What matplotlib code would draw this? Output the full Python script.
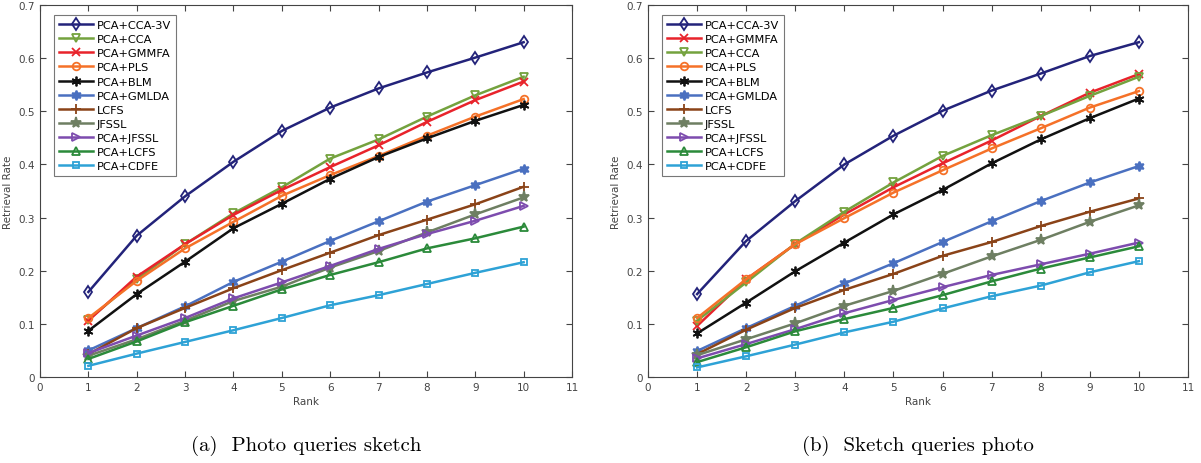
import matplotlib.pyplot as plt

rank = [1, 2, 3, 4, 5, 6, 7, 8, 9, 10]

# (a) photo queries sketch
a_cca3v = [0.160, 0.266, 0.340, 0.405, 0.463, 0.507, 0.543, 0.573, 0.601, 0.630]
a_cca = [0.108, 0.184, 0.250, 0.308, 0.357, 0.411, 0.447, 0.490, 0.530, 0.565]
a_gmmfa = [0.106, 0.189, 0.250, 0.305, 0.352, 0.395, 0.436, 0.480, 0.521, 0.556]
a_pls = [0.111, 0.181, 0.242, 0.292, 0.341, 0.380, 0.416, 0.454, 0.490, 0.523]
a_blm = [0.087, 0.156, 0.217, 0.280, 0.326, 0.373, 0.414, 0.449, 0.482, 0.512]
a_gmlda = [0.050, 0.092, 0.133, 0.179, 0.217, 0.256, 0.293, 0.330, 0.361, 0.392]
a_lcfs = [0.043, 0.092, 0.130, 0.167, 0.201, 0.234, 0.267, 0.296, 0.325, 0.358]
a_jfssl = [0.040, 0.071, 0.106, 0.143, 0.170, 0.206, 0.237, 0.272, 0.306, 0.338]
a_pjfssl = [0.045, 0.078, 0.111, 0.148, 0.178, 0.209, 0.241, 0.269, 0.294, 0.322]
a_plcfs = [0.034, 0.067, 0.103, 0.134, 0.165, 0.192, 0.216, 0.242, 0.261, 0.283]
a_cdfe = [0.021, 0.044, 0.066, 0.088, 0.111, 0.135, 0.154, 0.175, 0.196, 0.216]

# (b) sketch queries photo
b_cca3v = [0.156, 0.256, 0.331, 0.400, 0.454, 0.501, 0.539, 0.571, 0.604, 0.630]
b_gmmfa = [0.096, 0.184, 0.250, 0.306, 0.357, 0.402, 0.445, 0.491, 0.535, 0.570]
b_cca = [0.106, 0.178, 0.251, 0.311, 0.366, 0.416, 0.455, 0.491, 0.529, 0.565]
b_pls = [0.111, 0.184, 0.250, 0.299, 0.347, 0.389, 0.430, 0.468, 0.507, 0.538]
b_blm = [0.082, 0.140, 0.199, 0.253, 0.306, 0.352, 0.402, 0.447, 0.487, 0.524]
b_gmlda = [0.049, 0.092, 0.134, 0.176, 0.214, 0.254, 0.293, 0.331, 0.366, 0.397]
b_lcfs = [0.043, 0.089, 0.130, 0.164, 0.194, 0.228, 0.254, 0.284, 0.311, 0.336]
b_jfssl = [0.041, 0.071, 0.101, 0.134, 0.162, 0.194, 0.227, 0.258, 0.292, 0.323]
b_pjfssl = [0.035, 0.062, 0.090, 0.120, 0.145, 0.169, 0.192, 0.212, 0.232, 0.253]
b_plcfs = [0.028, 0.056, 0.086, 0.109, 0.130, 0.154, 0.180, 0.204, 0.225, 0.246]
b_cdfe = [0.018, 0.039, 0.061, 0.084, 0.104, 0.129, 0.152, 0.172, 0.197, 0.218]

# colour, marker, open?, marker size
styles = {
    'PCA+CCA-3V': ('#23237a', 'd', True, 6),
    'PCA+CCA': ('#74a23e', 'v', True, 6),
    'PCA+GMMFA': ('#e8232b', 'x', False, 6),
    'PCA+PLS': ('#f57128', 'o', True, 5.5),
    'PCA+BLM': ('#111111', (6, 2, 0), False, 7),
    'PCA+GMLDA': ('#4a70c0', (6, 1, 0), False, 7),
    'LCFS': ('#8a4318', '+', False, 7),
    'JFSSL': ('#6e7f62', '*', False, 8),
    'PCA+JFSSL': ('#7d4cae', '>', True, 6),
    'PCA+LCFS': ('#2b8a3a', '^', True, 6),
    'PCA+CDFE': ('#2ea2d6', 's', True, 4.5),
}

a_series = [('PCA+CCA-3V', a_cca3v), ('PCA+CCA', a_cca), ('PCA+GMMFA', a_gmmfa),
            ('PCA+PLS', a_pls), ('PCA+BLM', a_blm), ('PCA+GMLDA', a_gmlda),
            ('LCFS', a_lcfs), ('JFSSL', a_jfssl), ('PCA+JFSSL', a_pjfssl),
            ('PCA+LCFS', a_plcfs), ('PCA+CDFE', a_cdfe)]
b_series = [('PCA+CCA-3V', b_cca3v), ('PCA+GMMFA', b_gmmfa), ('PCA+CCA', b_cca),
            ('PCA+PLS', b_pls), ('PCA+BLM', b_blm), ('PCA+GMLDA', b_gmlda),
            ('LCFS', b_lcfs), ('JFSSL', b_jfssl), ('PCA+JFSSL', b_pjfssl),
            ('PCA+LCFS', b_plcfs), ('PCA+CDFE', b_cdfe)]

fig = plt.figure(figsize=(12.01, 4.64), dpi=100)
ax1 = fig.add_axes([40 / 1201, 1 - 378 / 464, 532 / 1201, 372 / 464])
ax2 = fig.add_axes([648 / 1201, 1 - 378 / 464, 540 / 1201, 372 / 464])

tick_col = '#444444'
for ax, series, cap, w in [(ax1, a_series, '(a)  Photo queries sketch', 532),
                           (ax2, b_series, '(b)  Sketch queries photo', 540)]:
    for name, vals in series:
        col, mk, hollow, ms = styles[name]
        kw = dict(color=col, marker=mk, lw=1.8, ms=ms, mew=1.3, label=name)
        if hollow:
            kw['mfc'] = 'none'
        ax.plot(rank, vals, **kw)
    ax.set_xlim(0, 11)
    ax.set_ylim(0, 0.7)
    ax.set_xticks(range(0, 12))
    ax.set_yticks([0, 0.1, 0.2, 0.3, 0.4, 0.5, 0.6, 0.7])
    ax.set_yticklabels(['0', '0.1', '0.2', '0.3', '0.4', '0.5', '0.6', '0.7'])
    ax.tick_params(direction='in', top=True, right=True, labelsize=7.5,
                   colors=tick_col, length=4, width=0.8)
    for sp in ax.spines.values():
        sp.set_color(tick_col)
        sp.set_linewidth(0.8)
    ax.set_xlabel('Rank', fontsize=7.5, color=tick_col, labelpad=3)
    ax.set_ylabel('Retrieval Rate', fontsize=7.5, color=tick_col, labelpad=4)
    leg = ax.legend(loc='upper left', bbox_to_anchor=(14 / w, 1 - 10 / 372),
                    borderaxespad=0, fontsize=8.2, frameon=True, fancybox=False,
                    edgecolor='#555555', handlelength=3.0, borderpad=0.45,
                    labelspacing=0.36, handletextpad=0.3)
    leg.get_frame().set_linewidth(0.8)
    bb = ax.get_position()
    fig.text((bb.x0 + bb.x1) / 2, 0.04, cap, ha='center', va='center',
             fontsize=15, family='cmr10')

fig.savefig('out.png', dpi=100)
